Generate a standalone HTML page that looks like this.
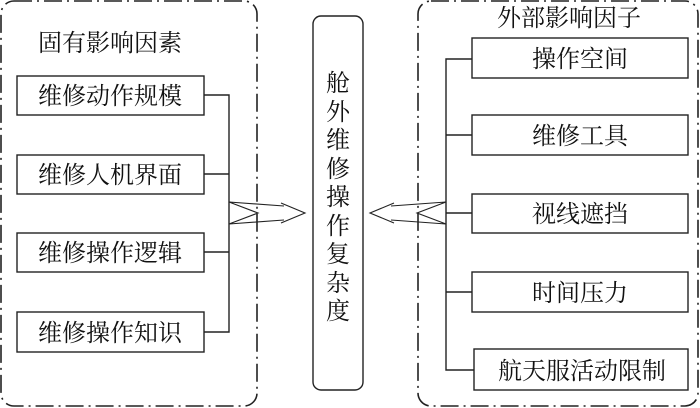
<!DOCTYPE html>
<html><head><meta charset="utf-8"><style>
html,body{margin:0;padding:0;background:#fff;}
svg{display:block;}
text{font-family:"Liberation Serif","Noto Serif CJK SC","Noto Sans CJK SC",serif;fill:#111;}
</style></head><body>
<svg width="700" height="408" viewBox="0 0 700 408" xmlns="http://www.w3.org/2000/svg">
<g fill="none" stroke="#222" stroke-width="1.6" stroke-dasharray="18,5,2,5">
<rect x="1" y="1" width="256" height="405" rx="13"/>
<rect x="418" y="1" width="280" height="405" rx="13"/>
</g>
<g fill="none" stroke="#222" stroke-width="1.4">
<rect x="313" y="16" width="50" height="374" rx="8"/>
<rect x="17" y="76" width="187" height="39"/>
<rect x="17" y="155" width="187" height="39"/>
<rect x="17" y="233" width="187" height="39"/>
<rect x="17" y="312" width="187" height="40"/>
<path d="M204 95H229V332H204M204 174H229M204 252H229"/>
<rect x="472" y="38" width="216" height="40"/>
<rect x="472" y="115" width="216" height="40"/>
<rect x="472" y="194" width="216" height="39"/>
<rect x="472" y="272" width="216" height="40"/>
<rect x="474" y="349" width="214" height="41"/>
<path d="M472 59H446V370H474M446 135H472M446 213H472M446 292H472"/>
<path d="M229 202L284 206M229 224L284 220M281 203L305 213L281 223M229 202L258 213L229 224" stroke-width="1.1"/>
<path d="M446 202L391 206M446 224L391 220M394 203L370 213L394 223M446 202L417 213L446 224" stroke-width="1.1"/>
</g>
<g font-size="24">
<text x="38" y="51">固有影响因素</text>
<text x="110" y="104" text-anchor="middle">维修动作规模</text>
<text x="110" y="183" text-anchor="middle">维修人机界面</text>
<text x="110" y="261" text-anchor="middle">维修操作逻辑</text>
<text x="110" y="341" text-anchor="middle">维修操作知识</text>
<text x="569" y="26" text-anchor="middle">外部影响因子</text>
<text x="580" y="67" text-anchor="middle">操作空间</text>
<text x="580" y="144" text-anchor="middle">维修工具</text>
<text x="580" y="222" text-anchor="middle">视线遮挡</text>
<text x="580" y="301" text-anchor="middle">时间压力</text>
<text x="582" y="379" text-anchor="middle">航天服活动限制</text>
</g>
<g font-size="24" text-anchor="middle">
<text x="338" y="91">舱</text>
<text x="338" y="120">外</text>
<text x="338" y="148">维</text>
<text x="338" y="177">修</text>
<text x="338" y="205">操</text>
<text x="338" y="234">作</text>
<text x="338" y="262">复</text>
<text x="338" y="291">杂</text>
<text x="338" y="319">度</text>
</g>
</svg>
</body></html>
